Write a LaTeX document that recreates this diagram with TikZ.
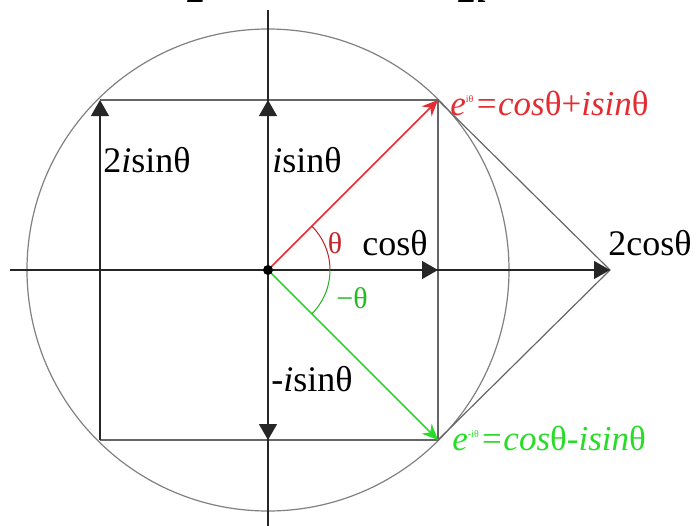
\documentclass[tikz,border=0pt]{standalone}
\usepackage{fontspec}
\setmainfont{Liberation Serif}
\usetikzlibrary{arrows.meta}
\definecolor{eqred}{RGB}{228,45,50}
\definecolor{eqgreen}{RGB}{40,220,40}

\begin{document}
\begin{tikzpicture}[x=0.5pt,y=0.5pt,>={Triangle[length=8pt,width=9pt]},
  guide/.style={draw=black!60,line width=0.6pt},
  axis/.style={draw=black!85,line width=0.6pt},
  lbl/.style={font=\fontsize{18}{20}\selectfont,inner sep=0pt},
  anglbl/.style={font=\fontsize{15}{17}\selectfont,inner sep=0pt},
  eqlbl/.style={font=\fontsize{17.5}{20}\selectfont\itshape,inner sep=0pt}]
\useasboundingbox (-268,-255) rectangle (428,270);
% points
\coordinate (O) at (0,0);
\coordinate (P) at (170,170);
\coordinate (Q) at (170,-170);
\coordinate (PL) at (-168,170);
\coordinate (QL) at (-168,-170);
\coordinate (T) at (0,170);
\coordinate (B) at (0,-170);
\coordinate (C) at (170,0);
\coordinate (C2) at (342,0);
\coordinate (xl) at (-258,0);
\coordinate (yt) at (0,260);
\coordinate (yb) at (0,-258);
% circle and box
\draw[draw=black!50,line width=0.6pt] (O) circle (241);
\draw[guide] (PL) -- (P) -- (Q) -- (QL);
\draw[guide] (P) -- (C2) -- (Q);
% axes
\draw[axis] (yt) -- (yb);
\draw[axis,->] (xl) -- (C2);
\draw[axis,->] (O) -- (C);
\draw[axis,->] (O) -- (T);
\draw[axis,->] (O) -- (B);
\draw[axis,->] (QL) -- (PL);
% vectors
\draw[eqred,line width=0.8pt,-{Stealth[length=8pt,width=7pt]}] (O) -- (P);
\draw[eqgreen,line width=0.8pt,-{Stealth[length=8pt,width=7pt]}] (O) -- (Q);
\draw[eqred!80!black,line width=0.5pt] (62,0) arc (0:45:62);
\draw[eqgreen!80!black,line width=0.5pt] (62,0) arc (0:-45:62);
\fill (O) circle (5);
% labels
\node[lbl,anchor=west] (l2isin) at (-165,110) {2\textit{i}sinθ};
\node[lbl,anchor=west] (lisin) at (4,110) {\textit{i}sinθ};
\node[lbl,anchor=west] (lcos) at (94,27) {cosθ};
\node[lbl,anchor=west] (l2cos) at (340,27) {2cosθ};
\node[lbl,anchor=west] (lmisin) at (3,-109) {-\textit{i}sinθ};
\node[anglbl,text=eqred!85!black] (lth) at (67,27) {θ};
\node[anglbl,text=eqgreen!85!black] (lmth) at (84,-28) {−θ};
\node[eqlbl,text=eqred,anchor=west] (leqp) at (182,167)
  {e\textsuperscript{\upshape\tiny iθ}=cos\upshape θ+\itshape isin\upshape θ};
\node[eqlbl,text=eqgreen,anchor=west] (leqm) at (184,-168)
  {e\textsuperscript{\upshape\tiny -iθ}=cos\upshape θ-\itshape isin\upshape θ};
% cut-off captions at the top edge
\node[lbl,font=\fontsize{18.5}{20}\selectfont\bfseries\itshape,anchor=base] (top1) at (-71,267) {2};
\node[lbl,font=\fontsize{18.5}{20}\selectfont\bfseries\itshape,anchor=base] (top2) at (205,267) {2i};
\end{tikzpicture}
\end{document}
